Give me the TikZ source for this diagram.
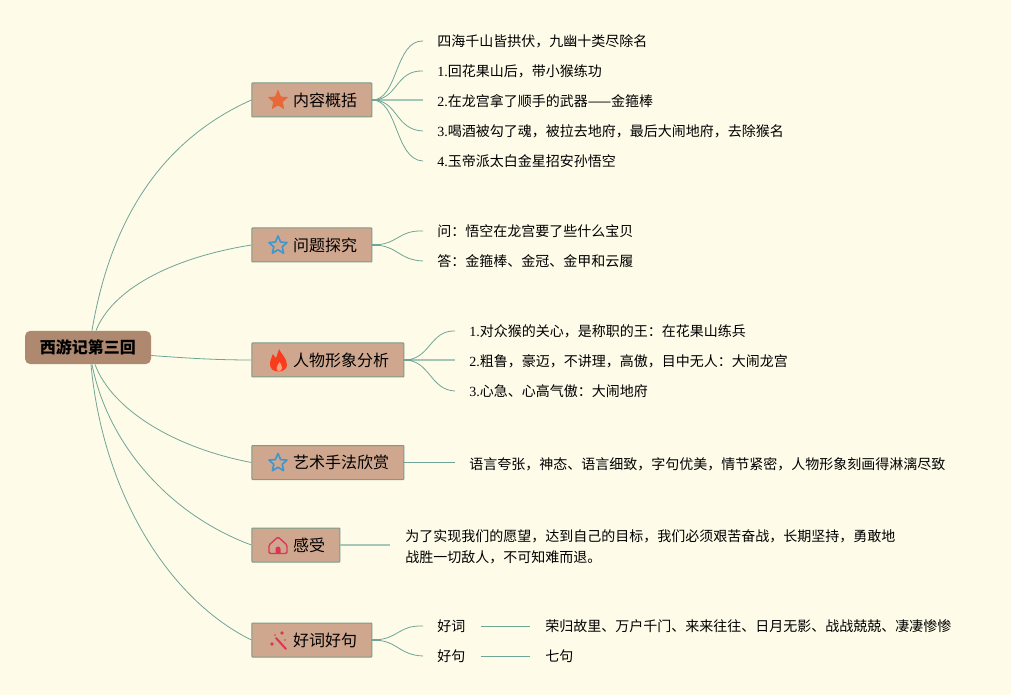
\documentclass[tikz,border=0pt]{standalone}
\usepackage{fontspec}
\setmainfont{Noto Sans CJK SC}
\newfontfamily\lat{Liberation Serif}
\definecolor{bg}{HTML}{FEFBE9}
\definecolor{nodefill}{HTML}{CFA78F}
\definecolor{rootfill}{HTML}{AE8970}
\definecolor{edge}{HTML}{6FA596}
\definecolor{edgelight}{HTML}{A3C8B8}
\definecolor{nodeborder}{HTML}{779E8A}
\definecolor{starorange}{HTML}{E8683A}
\definecolor{starblue}{HTML}{3F97CC}
\definecolor{flame}{HTML}{F93C1C}
\definecolor{flamecore}{HTML}{F9A080}
\definecolor{pinkred}{HTML}{DD3457}
\newcommand{\btext}[1]{\hspace*{31pt}\raisebox{-0.9pt}{#1}}
\tikzset{
  x=0.75pt,y=-0.75pt,
  branch/.style={draw=nodeborder,line width=0.75pt,rounded corners=0.6pt,fill=nodefill,anchor=west,minimum height=25.5pt,inner xsep=0pt,inner ysep=0pt,align=left,font=\fontsize{12}{14}\selectfont,text=black},
  rootnode/.style={fill=rootfill,rounded corners=4pt,minimum width=94.5pt,minimum height=25pt,inner sep=0pt,font=\fontsize{12}{14}\selectfont\bfseries,text=black},
  leaf/.style={anchor=west,inner sep=0pt,font=\fontsize{10.5}{12}\selectfont,text=black,align=left},
  conn/.style={draw=edge,line width=0.6pt},
  stub/.style={draw=edge,line width=1.2pt},
  straight/.style={draw=edgelight,line width=1.1pt},
  icostar/.pic={\fill[#1,rounded corners=0.6pt] (0,-11)--(2.9,-3.9)--(10.4,-3.4)--(4.7,1.5)--(6.4,8.9)--(0,4.9)--(-6.4,8.9)--(-4.7,1.5)--(-10.4,-3.4)--(-2.9,-3.9)--cycle;},
  icooutline/.pic={\draw[#1,line width=1.25pt,line join=round] (0,-9.5)--(2.6,-3.4)--(9,-2.9)--(4.2,1.3)--(5.6,7.7)--(0,4.3)--(-5.6,7.7)--(-4.2,1.3)--(-9,-2.9)--(-2.6,-3.4)--cycle;}
}
\begin{document}
\begin{tikzpicture}
\useasboundingbox[fill=bg] (0,0) rectangle (1011,695);

\node[rootnode] (root) at (88,347.5) {\raisebox{-0.8pt}{西游记第三回}};

\node[branch,text width=90pt] (b1) at (251.4,100) {\btext{内容概括}};
\node[branch,text width=90pt] (b2) at (251.4,245) {\btext{问题探究}};
\node[branch,text width=114pt] (b3) at (251.4,360) {\btext{人物形象分析}};
\node[branch,text width=114pt] (b4) at (251.4,462.5) {\btext{艺术手法欣赏}};
\node[branch,text width=66pt] (b5) at (251.4,545) {\btext{感受}};
\node[branch,text width=90pt] (b6) at (251.4,640) {\btext{好词好句}};

% root connectors
\draw[conn] ([xshift=3pt]root.north) .. controls (113,205) and (173,135) .. (b1.west);
\draw[conn] ([xshift=6pt]root.north) .. controls (112,290) and (170,258) .. (b2.west);
\draw[conn] ([yshift=-6pt]root.east) .. controls (185,358) and (215,360) .. (b3.west);
\draw[conn] ([xshift=5.25pt]root.south) .. controls (112,410) and (175,448) .. (b4.west);
\draw[conn] ([xshift=3pt]root.south) .. controls (108,445) and (170,515) .. (b5.west);
\draw[conn] ([xshift=2.25pt]root.south) .. controls (103,495) and (170,600) .. (b6.west);

% leaves
\node[leaf] (l11) at (437,41) {四海千山皆拱伏，九幽十类尽除名};
\node[leaf] (l12) at (437,71) {{\lat 1.}回花果山后，带小猴练功};
\node[leaf] (l13) at (437,101) {{\lat 2.}在龙宫拿了顺手的武器——金箍棒};
\node[leaf] (l14) at (437,131) {{\lat 3.}喝酒被勾了魂，被拉去地府，最后大闹地府，去除猴名};
\node[leaf] (l15) at (437,161) {{\lat 4.}玉帝派太白金星招安孙悟空};
\node[leaf] (l21) at (437,231) {问：悟空在龙宫要了些什么宝贝};
\node[leaf] (l22) at (437,261) {答：金箍棒、金冠、金甲和云履};
\node[leaf] (l31) at (469,331) {{\lat 1.}对众猴的关心，是称职的王：在花果山练兵};
\node[leaf] (l32) at (469,361) {{\lat 2.}粗鲁，豪迈，不讲理，高傲，目中无人：大闹龙宫};
\node[leaf] (l33) at (469,391) {{\lat 3.}心急、心高气傲：大闹地府};
\node[leaf] (l41) at (469,464) {语言夸张，神态、语言细致，字句优美，情节紧密，人物形象刻画得淋漓尽致};
\node[leaf,font=\fontsize{10.5}{15.75}\selectfont] (l51) at (405,546.5) {为了实现我们的愿望，达到自己的目标，我们必须艰苦奋战，长期坚持，勇敢地\\战胜一切敌人，不可知难而退。};
\node[leaf] (l61) at (437,626) {好词};
\node[leaf] (l62) at (437,656) {好句};
\node[leaf] (l63) at (545,626) {荣归故里、万户千门、来来往往、日月无影、战战兢兢、凄凄惨惨};
\node[leaf] (l64) at (545,656) {七句};

% branch 1 fan
\draw[conn] (b1.east) .. controls (398,100) and (395,40) .. ([xshift=-10.5pt]l11.west);
\draw[conn] (b1.east) .. controls (398,100) and (395,70) .. ([xshift=-10.5pt]l12.west);
\draw[straight] (b1.east) -- ([xshift=-10.5pt]l13.west |- b1.east);
\draw[conn] (b1.east) .. controls (398,100) and (395,130) .. ([xshift=-10.5pt]l14.west);
\draw[conn] (b1.east) .. controls (398,100) and (395,160) .. ([xshift=-10.5pt]l15.west);
\draw[stub] (b1.east) -- ++(8,0);
% branch 2
\draw[conn] (b2.east) .. controls (398,245) and (398,230) .. ([xshift=-10.5pt]l21.west);
\draw[conn] (b2.east) .. controls (398,245) and (398,260) .. ([xshift=-10.5pt]l22.west);
\draw[stub] (b2.east) -- ++(8,0);
% branch 3
\draw[conn] (b3.east) .. controls (430,360) and (430,330) .. ([xshift=-10.5pt]l31.west);
\draw[straight] (b3.east) -- ([xshift=-10.5pt]l32.west |- b3.east);
\draw[conn] (b3.east) .. controls (430,360) and (430,390) .. ([xshift=-10.5pt]l33.west);
\draw[stub] (b3.east) -- ++(8,0);
% branch 4, 5
\draw[conn,line width=0.8pt] (b4.east) -- ([xshift=-10.5pt]l41.west |- b4.east);
\draw[straight] (b5.east) -- ([xshift=-11.25pt]l51.west |- b5.east);
% branch 6
\draw[conn] (b6.east) .. controls (398,640) and (398,625) .. ([xshift=-10.5pt]l61.west);
\draw[conn] (b6.east) .. controls (398,640) and (398,655) .. ([xshift=-10.5pt]l62.west);
\draw[stub] (b6.east) -- ++(8,0);
\draw[conn] ([xshift=11.25pt]l61.east) -- ([xshift=-11.25pt]l63.west);
\draw[conn] ([xshift=11.25pt]l62.east) -- ([xshift=-11.25pt]l64.west);

% icons
\pic at (278,100.5) {icostar={starorange}};
\pic at (278,245.5) {icooutline={starblue}};
\pic at (278,463) {icooutline={starblue}};
% flame
\fill[flame] (279,349) .. controls (281,354) and (287,358) .. (287,365)
  .. controls (287,369) and (283,371.5) .. (278.5,371.5)
  .. controls (273,371.5) and (270,368.5) .. (270,364)
  .. controls (270,360) and (272,357) .. (273,354)
  .. controls (274,356) and (275,357) .. (276,358)
  .. controls (277,355) and (278,352) .. (279,349) -- cycle;
\fill[flamecore] (279.5,362) .. controls (281,364) and (282,366) .. (282,368)
  .. controls (282,370) and (280.5,371) .. (279,371)
  .. controls (277.5,371) and (276.5,370) .. (276.5,368)
  .. controls (276.5,366) and (278.5,364) .. (279.5,362) -- cycle;
% house
\draw[pinkred,line width=1pt,line join=round,rounded corners=1pt] (278,537) -- (287,545) -- (287,553.5) -- (269,553.5) -- (269,545) -- cycle;
\fill[pinkred] (275.5,553.5) -- (275.5,549) arc[start angle=180,end angle=360,radius=2.5] -- (280.5,553.5) -- cycle;
% wand
\draw[pinkred,line width=1.5pt,line cap=round] (276,638) -- (286,649);
\fill[pinkred] (282,633) circle[radius=1.8] (272,644) circle[radius=1.8];
\fill[pinkred] (285,640) circle[radius=0.9] (275,635) circle[radius=0.9];
\end{tikzpicture}
\end{document}
